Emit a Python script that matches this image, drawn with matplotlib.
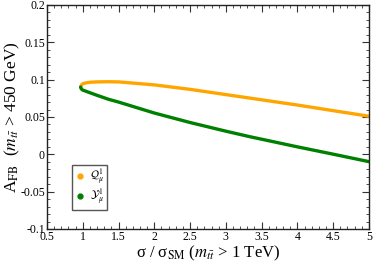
import matplotlib
matplotlib.use("Agg")
import matplotlib.pyplot as plt
from matplotlib.lines import Line2D
from matplotlib.ticker import MultipleLocator

plt.rcParams["font.family"] = ["Liberation Serif", "DejaVu Serif"]
plt.rcParams["mathtext.fontset"] = "stix"

# curve
q_x = [0.97, 0.98, 1.0, 1.05, 1.1, 1.2, 1.35, 1.5, 2.0, 2.5, 3.0, 3.5, 4.0, 4.5, 5.0]
q_y = [0.0900, 0.0925, 0.0945, 0.0958, 0.0965, 0.0970, 0.0972, 0.0970, 0.0930,
       0.0870, 0.0800, 0.0730, 0.0660, 0.0585, 0.0510]

y_x = [0.97, 0.98, 1.0, 1.1, 1.2, 1.36, 1.5, 2.0, 2.5, 3.0, 3.33, 3.61, 4.0, 4.5, 5.0]
y_y = [0.0900, 0.0875, 0.0860, 0.0825, 0.0790, 0.0737, 0.0700, 0.0553, 0.0426,
       0.0310, 0.0237, 0.0180, 0.0100, 0.0002, -0.0098]

x_ticks = [0.5, 1, 1.5, 2, 2.5, 3, 3.5, 4, 4.5, 5]
x_labels = ["0.5", "1", "1.5", "2", "2.5", "3", "3.5", "4", "4.5", "5"]
y_ticks = [-0.1, -0.05, 0, 0.05, 0.1, 0.15, 0.2]
y_labels = ["-0.1", "-0.05", "0", "0.05", "0.1", "0.15", "0.2"]

orange = "#FFA500"
green = "#008000"

fig = plt.figure(figsize=(3.73, 2.62), dpi=100)
ax = fig.add_axes([0.126, 0.126, 0.863, 0.855])

ax.plot(q_x, q_y, color=orange, lw=2.4, solid_capstyle="round")
ax.plot(y_x, y_y, color=green, lw=2.4, solid_capstyle="round")

ax.set_xlim(0.5, 5)
ax.set_ylim(-0.1, 0.2)
ax.set_xticks(x_ticks)
ax.set_xticklabels(x_labels)
ax.set_yticks(y_ticks)
ax.set_yticklabels(y_labels)
ax.xaxis.set_minor_locator(MultipleLocator(0.1))
ax.yaxis.set_minor_locator(MultipleLocator(0.01))
ax.tick_params(which="both", direction="in", top=True, right=True,
               labelsize=8.5, pad=1.5, color="#333333")
ax.tick_params(which="major", length=5, width=0.8)
ax.tick_params(which="minor", length=2.5, width=0.6)
for s in ax.spines.values():
    s.set_linewidth(1.0)
    s.set_color("#222222")

ax.set_xlabel(r"σ / σ$_{\mathrm{SM}}$ ($m_{t\bar{t}}$ > 1 TeV)", fontsize=12, labelpad=0.5)
ax.set_ylabel(r"A$_{\mathrm{FB}}$  ($m_{t\bar{t}}$ > 450 GeV)", fontsize=12.5, labelpad=-1)

handles = [
    Line2D([], [], ls="", marker="o", ms=3.5, color=orange),
    Line2D([], [], ls="", marker="o", ms=3.5, color=green),
]
leg = ax.legend(handles, [r"$\mathcal{Q}_{\mu}^{1}$", r"$\mathcal{Y}_{\mu}^{1}$"],
                loc="lower left", bbox_to_anchor=(0.06, 0.06), fontsize=8,
                handlelength=0.9, handletextpad=0.5, borderpad=0.25,
                labelspacing=0.05, fancybox=False, framealpha=1)
leg.get_frame().set_edgecolor("#555555")
leg.get_frame().set_linewidth(1.0)

fig.savefig("out.png", dpi=100)
